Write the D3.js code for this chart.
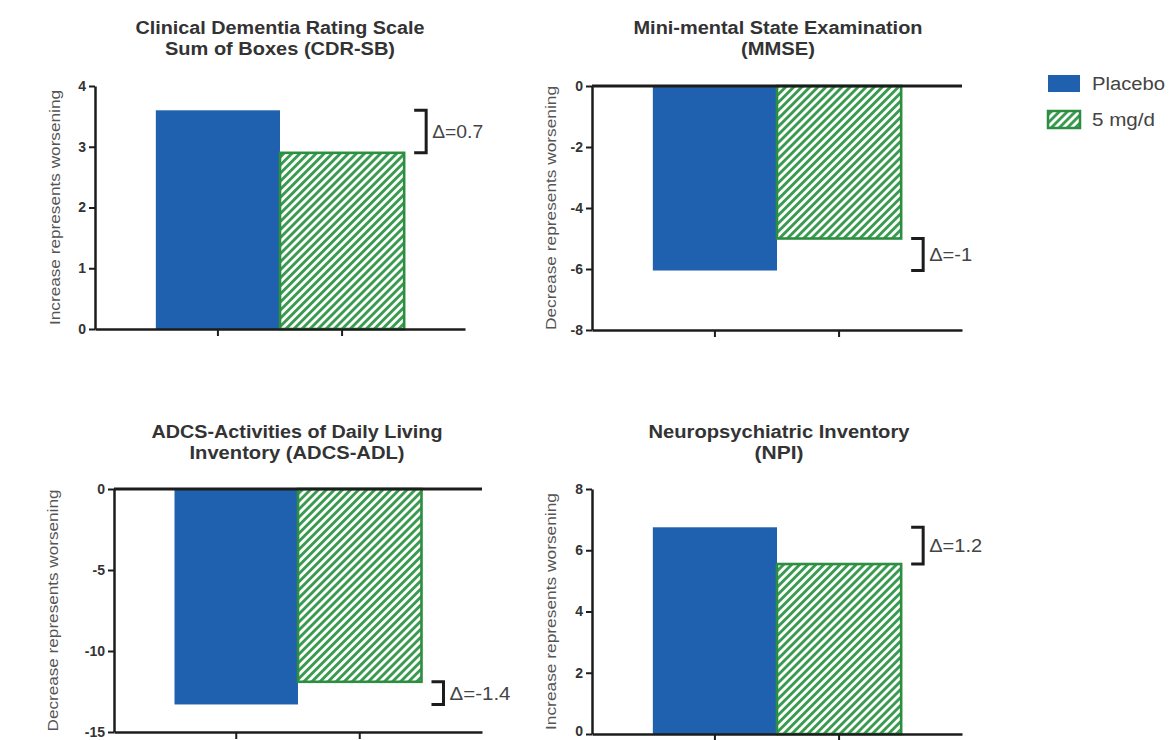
<!DOCTYPE html>
<html><head><meta charset="utf-8">
<script src="https://cdn.jsdelivr.net/npm/d3@7"></script>
<style>body{margin:0;background:#fff}svg{display:block}</style>
</head><body>
<svg id="chart" width="1175" height="740"></svg>
<script>
// ---- data ----
const groups = ["Placebo", "5 mg/d"];
const titleLines1 = ["Clinical Dementia Rating Scale", "Mini-mental State Examination", "ADCS-Activities of Daily Living", "Neuropsychiatric Inventory"];
const titleLines2 = ["Sum of Boxes (CDR-SB)", "(MMSE)", "Inventory (ADCS-ADL)", "(NPI)"];
const yLabels = ["Increase represents worsening", "Decrease represents worsening", "Decrease represents worsening", "Increase represents worsening"];
const placeboValues = [3.6, -6.05, -13.3, 6.75];
const drugValues = [2.9, -5.0, -11.9, 5.55];
const deltaLabels = ["\u0394=0.7", "\u0394=-1", "\u0394=-1.4", "\u0394=1.2"];
const yDomains = [[0, 4], [-8, 0], [-15, 0], [0, 8]];
const yTicks = [[0, 1, 2, 3, 4], [-8, -6, -4, -2, 0], [-15, -10, -5, 0], [0, 2, 4, 6, 8]];

// ---- layout ----
const layout = [
  {x0: 95,  x1: 465, yTop: 86,  yBot: 329, tX: 280, tY: [34, 55],   tW: [289, 230], labX: 55,  labW: 235, dW: 51},
  {x0: 592, x1: 962, yTop: 86,  yBot: 330, tX: 778, tY: [34, 55],   tW: [289, 74],  labX: 551, labW: 244, dW: 43},
  {x0: 114, x1: 482, yTop: 489, yBot: 732, tX: 297, tY: [438, 459], tW: [291, 215], labX: 53,  labW: 242, dW: 61},
  {x0: 592, x1: 962, yTop: 489, yBot: 734, tX: 779, tY: [438, 459], tW: [261, 49],  labX: 551, labW: 237, dW: 53}
];
const BLUE = "#1f61ae", GREEN = "#2c8e40", AX = "#1c1c1c", TXT = "#333";
const FONT = "'Liberation Sans', Arial, sans-serif";

const svg = d3.select("#chart");
svg.append("rect").attr("width", 1175).attr("height", 740).attr("fill", "#fff");

const defs = svg.append("defs");
const pat = defs.append("pattern").attr("id", "hatch").attr("patternUnits", "userSpaceOnUse")
  .attr("width", 5.7).attr("height", 10).attr("patternTransform", "rotate(45)");
pat.append("rect").attr("width", 5.7).attr("height", 10).attr("fill", "#fff");
pat.append("rect").attr("width", 2.9).attr("height", 10).attr("fill", "#3a9a50");

function htext(g, str, x, y, w, size, weight, anchor) {
  const t = g.append("text").attr("x", x).attr("y", y).text(str)
    .attr("font-family", FONT).attr("font-size", size).attr("font-weight", weight)
    .attr("fill", TXT).attr("text-anchor", anchor || "start");
  if (w) t.attr("textLength", w).attr("lengthAdjust", "spacingAndGlyphs");
  return t;
}

layout.forEach((L, i) => {
  const g = svg.append("g");
  const x = d3.scaleBand().domain(groups).range([L.x0, L.x1]).paddingInner(0).paddingOuter(0.49);
  const y = d3.scaleLinear().domain(yDomains[i]).range([L.yBot, L.yTop]);
  const vals = [placeboValues[i], drugValues[i]];

  // bars
  g.selectAll("rect.bar").data(groups).join("rect").attr("class", "bar")
    .attr("x", d => x(d)).attr("width", x.bandwidth())
    .attr("y", (d, j) => y(Math.max(0, vals[j])))
    .attr("height", (d, j) => Math.abs(y(vals[j]) - y(0)))
    .attr("fill", (d, j) => j === 0 ? BLUE : "url(#hatch)")
    .attr("stroke", (d, j) => j === 0 ? "none" : GREEN)
    .attr("stroke-width", 2.6);

  // y axis
  const ya = g.append("g").attr("transform", `translate(${L.x0},0)`)
    .call(d3.axisLeft(y).tickValues(yTicks[i]).tickSize(6).tickSizeOuter(0).tickPadding(3).tickFormat(d => String(d)));
  ya.select(".domain").attr("stroke", AX).attr("stroke-width", 2.5);
  ya.selectAll(".tick line").attr("stroke", AX).attr("stroke-width", 2);
  ya.selectAll(".tick text").attr("font-family", FONT).attr("font-size", 14).attr("font-weight", "bold").attr("fill", TXT)
    .attr("dy", d => (y(d) + 8 > 740) ? "0.1em" : "0.32em");

  // bottom axis
  const xa = g.append("g").attr("transform", `translate(0,${L.yBot})`)
    .call(d3.axisBottom(x).tickSize(7).tickSizeOuter(0).tickFormat(""));
  xa.select(".domain").attr("stroke", AX).attr("stroke-width", 2.5);
  xa.selectAll(".tick line").attr("stroke", AX).attr("stroke-width", 2);

  // zero line on top when values are negative
  if (yDomains[i][1] === 0) {
    g.append("line").attr("x1", L.x0).attr("x2", L.x1).attr("y1", y(0)).attr("y2", y(0))
      .attr("stroke", AX).attr("stroke-width", 3);
  }

  // bracket and delta label
  const bx = x(groups[1]) + x.bandwidth() + 22;
  const yA = y(vals[0]), yB = y(vals[1]);
  g.append("path").attr("d", `M${bx - 12},${yA}H${bx}V${yB}H${bx - 12}`)
    .attr("fill", "none").attr("stroke", AX).attr("stroke-width", 3);
  htext(g, deltaLabels[i], bx + 6, (yA + yB) / 2, L.dW, 18, "normal").attr("dy", "0.36em").attr("fill", "#444");

  // titles
  htext(g, titleLines1[i], L.tX, L.tY[0], L.tW[0], 18, "bold", "middle");
  htext(g, titleLines2[i], L.tX, L.tY[1], L.tW[1], 18, "bold", "middle");

  // y label
  const cy = (L.yTop + L.yBot) / 2;
  g.append("text").attr("transform", `translate(${L.labX},${cy}) rotate(-90)`)
    .attr("dy", "0.36em").attr("text-anchor", "middle")
    .attr("font-family", FONT).attr("font-size", 15).attr("fill", "#555")
    .attr("textLength", L.labW).attr("lengthAdjust", "spacingAndGlyphs")
    .text(yLabels[i]);
});

// legend
const leg = svg.append("g");
const legendY = [75, 111];
const legendW = [73, 63];
groups.forEach((gname, j) => {
  leg.append("rect").attr("x", 1048).attr("y", legendY[j]).attr("width", 32).attr("height", 17)
    .attr("fill", j === 0 ? BLUE : "url(#hatch)").attr("stroke", j === 0 ? "none" : GREEN).attr("stroke-width", 2.5);
  htext(leg, gname, 1092, legendY[j] + 15, legendW[j], 18, "normal").attr("fill", "#444");
});
</script>
</body></html>
